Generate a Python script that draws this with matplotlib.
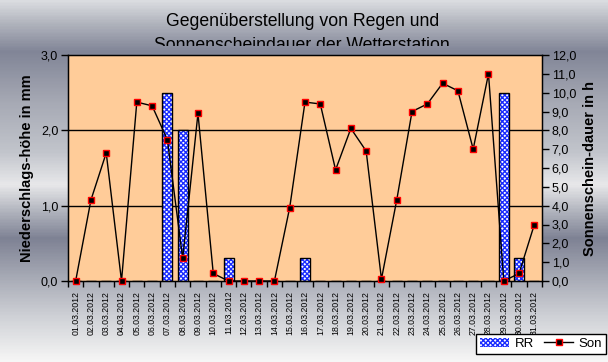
import matplotlib
matplotlib.use("Agg")
import matplotlib.pyplot as plt
import numpy as np
from matplotlib.colors import LinearSegmentedColormap
from matplotlib.lines import Line2D
from matplotlib.patches import Patch

plt.rcParams['font.family'] = ['Liberation Sans', 'DejaVu Sans']

# data
dates = ['%02d.03.2012' % d for d in range(1, 32)]
rain = [0, 0, 0, 0, 0, 0, 2.5, 2.0, 0, 0, 0.3, 0, 0, 0, 0, 0.3,
        0, 0, 0, 0, 0, 0, 0, 0, 0, 0, 0, 0, 2.5, 0.3, 0]
sun = [0.0, 4.3, 6.8, 0.0, 9.5, 9.3, 7.5, 1.2, 8.9, 0.4, 0.0, 0.0, 0.0, 0.0, 3.9, 9.5,
       9.4, 5.9, 8.1, 6.9, 0.1, 4.3, 9.0, 9.4, 10.5, 10.1, 7.0, 11.0, 0.0, 0.4, 3.0]
left_ticks = [0, 1, 2, 3]
right_ticks = list(range(0, 13))


def de(v):
    return ('%.1f' % v).replace('.', ',')


H = 362
fig = plt.figure(figsize=(6.08, 3.62), dpi=100)
fig.patch.set_facecolor('white')

# metallic background gradient
stops = [(0.0, '#dadce0'), (0.06, '#b2b5be'), (0.14, '#818597'), (0.28, '#a6a9b4'),
         (0.42, '#c2c5cc'), (0.51, '#e8e8ea'), (0.58, '#b4b7c0'), (0.66, '#7e8294'),
         (0.77, '#a8abb6'), (0.88, '#d0d2d7'), (1.0, '#f6f6f6')]
cmap = LinearSegmentedColormap.from_list('metal', stops)
grad = np.linspace(0, 1, H).reshape(-1, 1)
bg = fig.add_axes([0, 0, 1, 1], zorder=-5)
bg.imshow(grad, cmap=cmap, aspect='auto', vmin=0, vmax=1, extent=[0, 1, 1, 0])
bg.axis('off')

# title, the second line is cut off by the chart area
for txt, yy in [('Gegenüberstellung von Regen und', 25.5),
                ('Sonnenscheindauer der Wetterstation', 49.5)]:
    fig.text(0.497, 1 - yy / H, txt, ha='center', va='baseline', fontsize=12.7,
             zorder=-4)
cut0, cut1 = 46, 56
strip = fig.add_axes([0, 1 - cut1 / H, 1, (cut1 - cut0) / H], zorder=-3)
strip.imshow(grad[cut0:cut1], cmap=cmap, aspect='auto', vmin=0, vmax=1,
             extent=[0, 1, 1, 0])
strip.axis('off')

ax = fig.add_axes([68 / 608, 1 - 281 / H, 474 / 608, 226 / H])
ax.set_facecolor('#ffcc99')
x = np.arange(len(dates))

ax.bar(x, rain, width=0.66, color='white', edgecolor='#1a2cff', hatch='xxxxxxx',
       linewidth=0, zorder=2)
ax.bar(x, rain, width=0.66, fill=False, edgecolor='black', linewidth=1, zorder=3)

ax.set_xlim(-0.5, len(dates) - 0.5)
ax.set_ylim(0, 3)
ax.set_yticks(left_ticks)
ax.set_yticklabels([de(v) for v in left_ticks], fontsize=9)
for v in [1, 2]:
    ax.axhline(v, color='black', lw=1, zorder=1)
ax.set_xticks(x)
ax.set_xticklabels(dates, rotation=90, fontsize=6.3)
ax.set_xticks(np.arange(-0.5, len(dates)), minor=True)
ax.tick_params(axis='x', which='major', length=0, pad=7)
ax.tick_params(axis='x', which='minor', length=4, direction='out', width=1)
ax.tick_params(axis='y', length=5, direction='out', width=1, pad=2)
for s in ax.spines.values():
    s.set_color('black')
    s.set_linewidth(1)
ax.set_ylabel('Niederschlags-höhe in mm', fontsize=10.5, fontweight='bold', labelpad=5)

ax2 = ax.twinx()
ax2.plot(x, sun, color='black', lw=1, marker='s', markersize=5,
         markerfacecolor='black', markeredgecolor='red', markeredgewidth=1,
         clip_on=False, zorder=5)
ax2.set_ylim(0, 12)
ax2.set_yticks(right_ticks)
ax2.set_yticklabels([de(v) for v in right_ticks], fontsize=9)
ax2.tick_params(axis='y', length=5, direction='out', width=1, pad=2)
ax2.set_ylabel('Sonnenschein-dauer in h', fontsize=10.5, fontweight='bold', labelpad=5)

handles = [Patch(facecolor='white', edgecolor='#1a2cff', hatch='xxxxxxx', linewidth=0),
           Line2D([], [], color='black', lw=1, marker='s', markersize=5,
                  markerfacecolor='black', markeredgecolor='red')]
leg = fig.legend(handles, ['RR', 'Son'], loc='lower right',
                 bbox_to_anchor=(606 / 608, 8 / H), ncol=2, fontsize=9.5,
                 frameon=True, fancybox=False, edgecolor='black', framealpha=1,
                 borderpad=0.3, handlelength=2.2, handletextpad=0.4,
                 columnspacing=0.8, borderaxespad=0)
leg.get_frame().set_linewidth(1)

fig.savefig('out.png', dpi=100)
